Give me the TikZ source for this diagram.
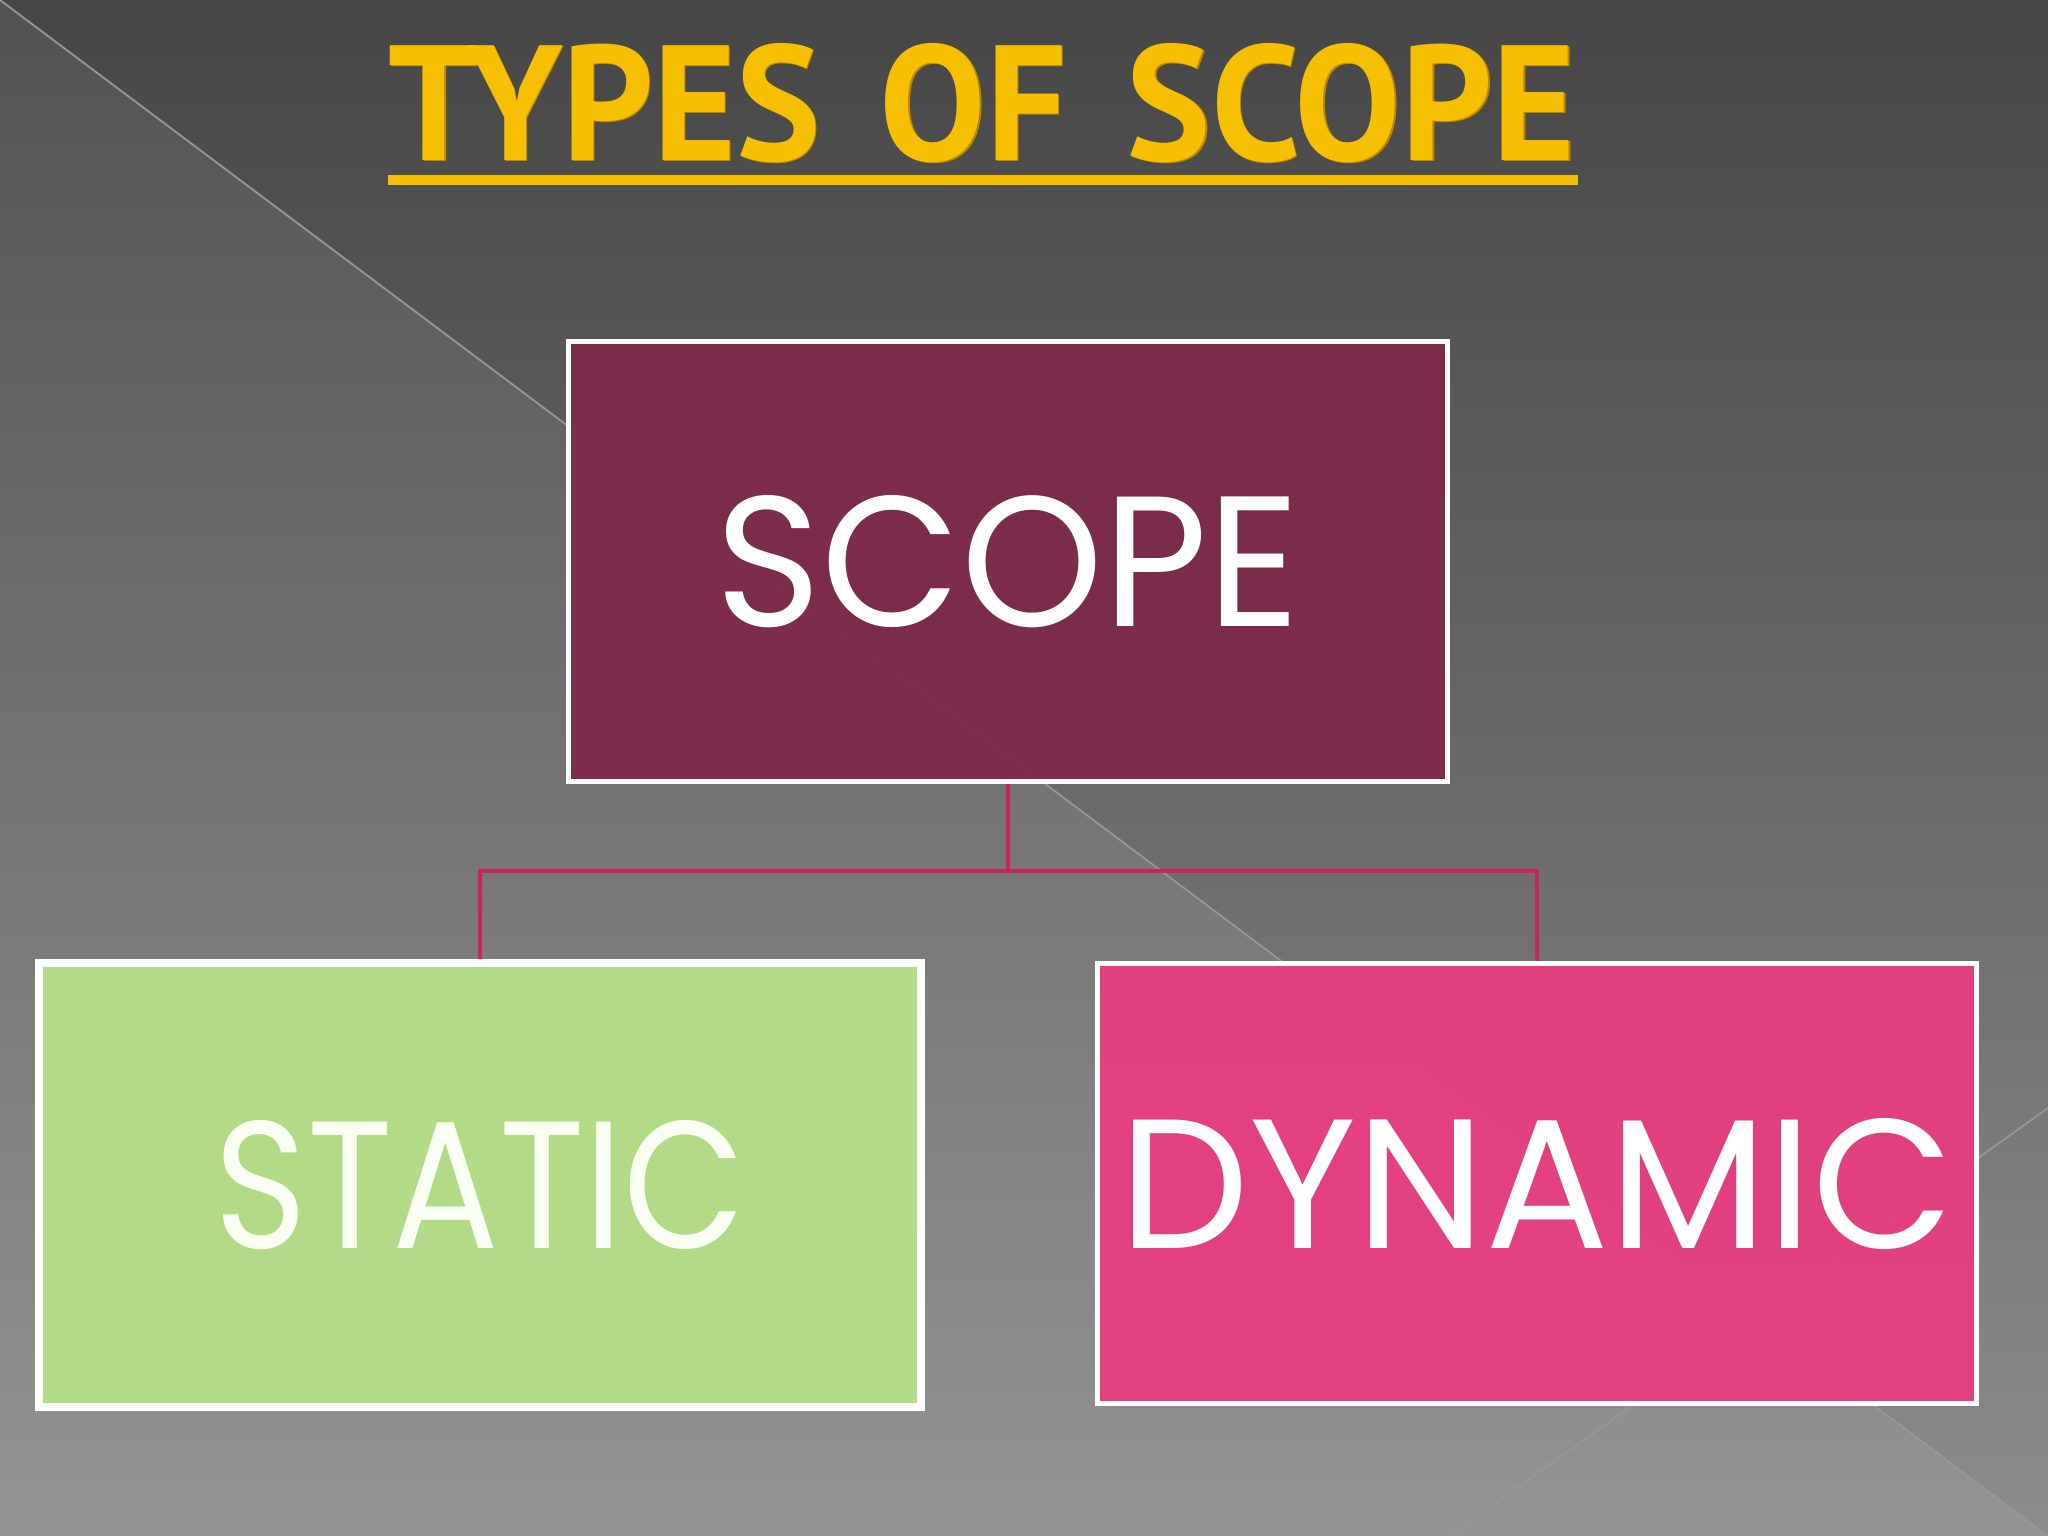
\documentclass[tikz,border=0pt]{standalone}
\usepackage{fontspec}
\usepackage{graphicx}
\newfontfamily\titlefont{PT Sans}
\newfontfamily\boxfont{Poppins}
\definecolor{bgtop}{RGB}{70,70,70}
\definecolor{bgbot}{RGB}{140,140,140}
\definecolor{gold}{RGB}{246,192,0}
\definecolor{golddark}{RGB}{190,135,0}
\definecolor{maroon}{RGB}{126,42,75}
\definecolor{pinkbox}{RGB}{230,62,128}
\definecolor{greenbox}{RGB}{181,222,136}
\definecolor{greentext}{RGB}{250,253,242}
\definecolor{connpink}{RGB}{200,36,95}
\definecolor{diagline}{RGB}{150,150,150}
\begin{document}
\begin{tikzpicture}[x=0.01cm,y=-0.01cm,
  boxstyle/.style={draw=white, line width=0.05cm, inner sep=0pt, minimum width=8.78cm, minimum height=4.39cm, fill opacity=0.96, text opacity=1},
  conn/.style={draw=connpink, line width=0.035cm},
  thinline/.style={draw=diagline, line width=0.018cm}]
\useasboundingbox (0,0) rectangle (2048,1536);
% background
\shade[top color=bgtop, bottom color=bgbot] (0,0) rectangle (2048,1536);
\fill[white, opacity=0.07] (0,0) -- (2048,1536) -- (0,1536) -- cycle;
\draw[thinline] (0,0) -- (2048,1536);
\draw[thinline] (1450,1536) -- (2048,1108);
% title
\node[anchor=south west, inner sep=0pt, text=golddark] (titleshadow) at (389.5,164.5) {\resizebox{11.86cm}{1.17cm}{\titlefont\bfseries TYPES\hspace{0.12em} OF\hspace{0.12em} SCOPE}};
\node[anchor=south west, inner sep=0pt, text=gold] (title) at (388,163) {\resizebox{11.86cm}{1.17cm}{\titlefont\bfseries TYPES\hspace{0.12em} OF\hspace{0.12em} SCOPE}};
\coordinate (ulA) at (388,180);
\coordinate (ulB) at (1578,180);
\draw[draw=gold, line width=0.1cm] (ulA) -- (ulB);
% boxes
\node[boxstyle, fill=maroon, text=white] (scope) at (1008,561.5) {\resizebox{5.84cm}{1.31cm}{\boxfont SCOPE}};
\node[boxstyle, fill=greenbox, text=greentext, line width=0.08cm, minimum width=8.82cm, minimum height=4.44cm] (static) at (480,1185) {\resizebox{5.31cm}{1.28cm}{\boxfont STATIC}};
\node[boxstyle, fill=pinkbox, text=white] (dynamic) at (1537,1183.5) {\resizebox{8.34cm}{1.30cm}{\boxfont DYNAMIC}};
% connectors
\coordinate (bus) at (1008,871);
\draw[conn] (scope.south) -- (bus) -| (static.north);
\draw[conn] (bus) -| (dynamic.north);
\end{tikzpicture}
\end{document}
